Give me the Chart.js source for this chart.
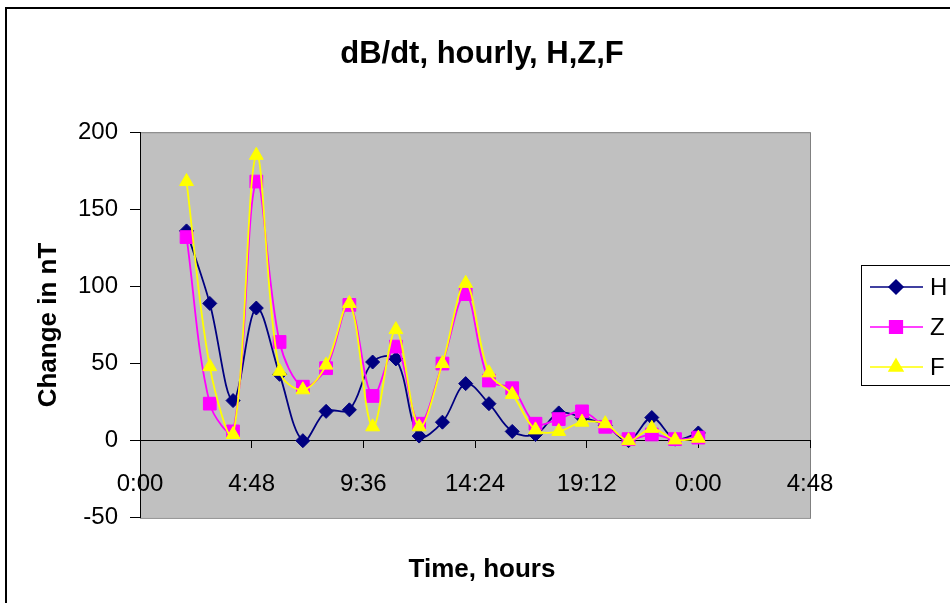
<!DOCTYPE html>
<html>
<head>
<meta charset="utf-8">
<script src="https://cdn.jsdelivr.net/npm/chart.js@4"></script>
<style>
  body { margin: 0; background: #fff; }
</style>
</head>
<body>
<canvas id="myChart" width="950" height="603"></canvas>
<script>
// hours of the day (24 = midnight of the next day)
const hours = [2, 3, 4, 5, 6, 7, 8, 9, 10, 11, 12, 13, 14, 15, 16, 17, 18, 19, 20, 21, 22, 23, 24];
const valuesH = [136, 89, 26, 86, 43, 0, 19, 20, 51, 53, 3, 12, 37, 24, 6, 4, 18, 15, 10, 0, 15, 1, 5];
const valuesZ = [132, 24, 6, 168, 64, 35, 47, 88, 29, 61, 11, 50, 95, 39, 34, 11, 14, 19, 9, 1, 4, 1, 2];
const valuesF = [168, 48, 4, 185, 45, 33, 49, 89, 9, 72, 9, 50, 102, 44, 30, 7, 6, 12, 11, 0, 8, 0.5, 1.6];
// x axis runs 0:00 .. 4:48 next day, in minutes
const xMin = 0, xMax = 1728, xStep = 288;
const yMin = -50, yMax = 200, yStep = 50;

const FONT = "'Liberation Sans', Arial, sans-serif";

function toPoints(vals) {
    return hours.map((h, i) => ({ x: h * 60, y: vals[i] }));
}

function fmtTime(v) {
    const m = Math.round(v) % 1440;
    const mm = m % 60;
    return Math.floor(m / 60) + ":" + (mm < 10 ? "0" : "") + mm;
}

// grey plot area + outer frame
const backdrop = {
    id: "backdrop",
    beforeDraw(chart) {
        const { ctx, chartArea: a } = chart;
        ctx.save();
        ctx.fillStyle = "#c0c0c0";
        ctx.fillRect(a.left, a.top, a.right - a.left, a.bottom - a.top);
        ctx.strokeStyle = "#808080";
        ctx.lineWidth = 1;
        ctx.strokeRect(a.left + 0.5, a.top + 0.5, a.right - a.left, a.bottom - a.top);
        ctx.strokeStyle = "#000";
        ctx.lineWidth = 2;
        ctx.strokeRect(6, 8, 1200, 1200);
        ctx.restore();
    }
};

// Excel style legend box: line + marker + name
const boxLegend = {
    id: "boxLegend",
    afterDraw(chart) {
        const { ctx } = chart;
        const x0 = 861, y0 = 265;
        ctx.save();
        ctx.fillStyle = "#fff";
        ctx.fillRect(x0, y0, 200, 120);
        ctx.strokeStyle = "#000";
        ctx.lineWidth = 1;
        ctx.strokeRect(x0 + 0.5, y0 + 0.5, 200, 120);
        chart.data.datasets.forEach((ds, i) => {
            const y = 287 + i * 40;
            ctx.strokeStyle = ds.borderColor;
            ctx.lineWidth = 1.5;
            ctx.beginPath();
            ctx.moveTo(870, y);
            ctx.lineTo(923, y);
            ctx.stroke();
            ctx.fillStyle = ds.pointBackgroundColor;
            ctx.strokeStyle = ds.borderColor;
            Chart.helpers.drawPoint(ctx, {
                pointStyle: ds.pointStyle, radius: ds.pointRadius,
                borderWidth: 1, rotation: 0
            }, 896, y);
            ctx.fillStyle = "#000";
            ctx.font = "24px " + FONT;
            ctx.textBaseline = "middle";
            ctx.fillText(ds.label, 930, y + 1);
        });
        ctx.restore();
    }
};

function series(label, vals, color, style, radius, order) {
    return {
        label: label,
        data: toPoints(vals),
        yAxisID: "y",
        borderColor: color,
        backgroundColor: color,
        pointBackgroundColor: color,
        pointBorderColor: color,
        pointStyle: style,
        pointRadius: radius,
        pointBorderWidth: 1,
        borderWidth: 1.8,
        tension: 0.35,
        order: order
    };
}

new Chart(document.getElementById("myChart"), {
    type: "line",
    data: {
        datasets: [
            series("H", valuesH, "#000080", "rectRot", 7, 2),
            series("Z", valuesZ, "#ff00ff", "rect", 9, 1),
            series("F", valuesF, "#ffff00", "triangle", 8, 0)
        ]
    },
    options: {
        responsive: false,
        animation: false,
        devicePixelRatio: 1,
        layout: { padding: { left: 20, right: 6, top: 0, bottom: 0 } },
        plugins: {
            legend: { display: false },
            tooltip: { enabled: false },
            title: {
                display: true,
                text: "dB/dt, hourly, H,Z,F",
                color: "#000",
                font: { family: FONT, size: 31, weight: "bold", lineHeight: 1.2 },
                padding: { top: 36, bottom: 59 }
            },
            subtitle: {
                display: true,
                position: "bottom",
                text: "Time, hours",
                color: "#000",
                font: { family: FONT, size: 26, weight: "bold", lineHeight: 1.2 },
                padding: { top: 36, bottom: 18 }
            }
        },
        scales: {
            x: {
                type: "linear",
                position: { y: 0 },
                min: xMin,
                max: xMax,
                ticks: {
                    stepSize: xStep,
                    autoSkip: false,
                    maxRotation: 0,
                    color: "#000",
                    padding: 22,
                    font: { family: FONT, size: 24 },
                    callback: v => fmtTime(v)
                },
                grid: { drawOnChartArea: false, tickLength: 7, color: "#000" },
                border: { color: "#000", width: 1 }
            },
            y: {
                min: yMin,
                max: yMax,
                afterFit: s => { s.width = 120; },
                ticks: {
                    stepSize: yStep,
                    color: "#000",
                    padding: 12,
                    font: { family: FONT, size: 24 }
                },
                grid: { drawOnChartArea: false, tickLength: 10, color: "#000" },
                border: { color: "#000", width: 1 },
                title: {
                    display: true,
                    text: "Change in nT",
                    color: "#000",
                    font: { family: FONT, size: 26, weight: "bold", lineHeight: 1.2 },
                    padding: { top: 13, bottom: 0 }
                }
            },
            // empty right-hand space where the legend sits
            spacer: {
                position: "right",
                min: yMin,
                max: yMax,
                afterFit: s => { s.width = 134; },
                ticks: { display: false },
                grid: { display: false },
                border: { display: false }
            }
        }
    },
    plugins: [backdrop, boxLegend]
});
</script>
</body>
</html>
